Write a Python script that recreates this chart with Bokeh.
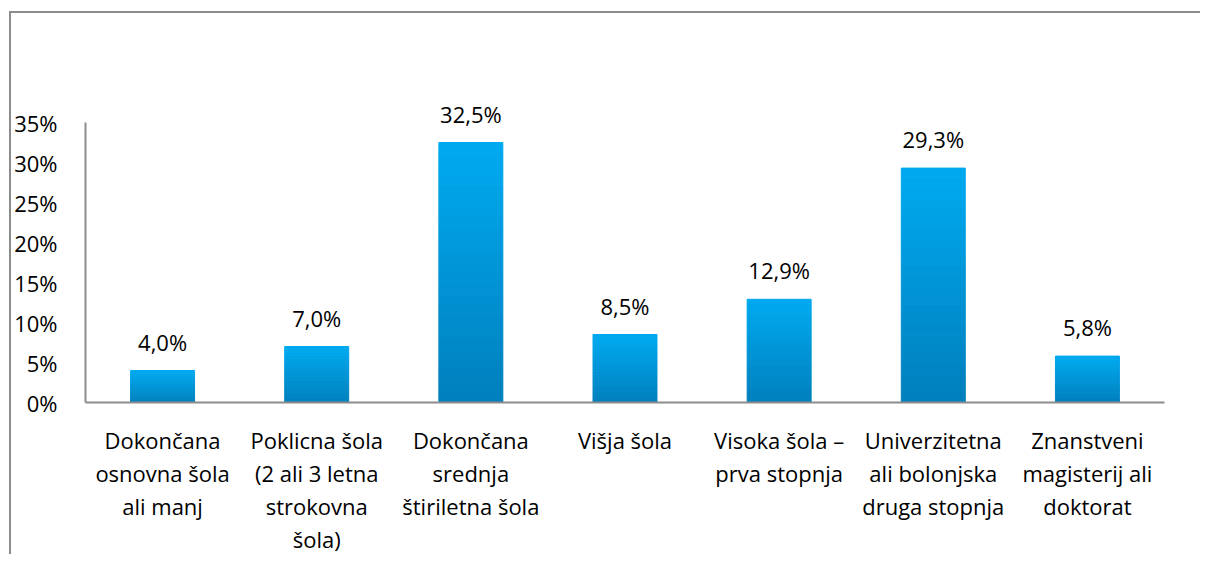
from bokeh.plotting import figure
from bokeh.models import FactorRange, FixedTicker, PrintfTickFormatter, ColumnDataSource, LabelSet
from bokeh.core.properties import value
from bokeh.embed import file_html
from bokeh.resources import INLINE

category_labels = [
    "Dokončana\nosnovna šola\nali manj",
    "Poklicna šola\n(2 ali 3 letna\nstrokovna\nšola)",
    "Dokončana\nsrednja\nštiriletna šola",
    "Višja šola",
    "Visoka šola –\nprva stopnja",
    "Univerzitetna\nali bolonjska\ndruga stopnja",
    "Znanstveni\nmagisterij ali\ndoktorat",
]
values = [4.0, 7.0, 32.5, 8.5, 12.9, 29.3, 5.8]
y_ticks = [0, 5, 10, 15, 20, 25, 30, 35]

FONT = "Open Sans"
FS = "22px"

p = figure(
    x_range=FactorRange(*category_labels, range_padding=0),
    y_range=(0, 40),
    width=1191, height=543,
    min_border_left=60, min_border_top=69, min_border_right=38, min_border_bottom=152,
    output_backend="svg", toolbar_location=None,
)
p.margin = (11, 0, 0, 9)
p.styles = {"border-top": "2px solid #8c8c8c", "border-left": "2px solid #8c8c8c"}
p.outline_line_color = None
p.xgrid.grid_line_color = None
p.ygrid.grid_line_color = None

# gradient bars: slices from dark (bottom) to light (top)
N = 24
dark = (0, 127, 188)
light = (0, 170, 240)
xs, bottoms, tops, colors = [], [], [], []
for c, v in zip(category_labels, values):
    for k in range(N):
        t = (k + 0.5) / N
        col = tuple(int(round(d + (l - d) * t)) for d, l in zip(dark, light))
        xs.append(c)
        bottoms.append(v * k / N)
        tops.append(v * (k + 1) / N)
        colors.append("#%02x%02x%02x" % col)
p.vbar(x=xs, bottom=bottoms, top=tops, width=0.415, fill_color=colors, line_color=colors, line_width=1)

src = ColumnDataSource(dict(x=category_labels, y=values,
                            txt=[f"{v:.1f}%".replace(".", ",") for v in values]))
labels = LabelSet(x="x", y="y", text="txt", source=src, text_align="center",
                  text_baseline="alphabetic", y_offset=20,
                  text_font=value(FONT), text_font_size=value(FS), text_color="#000000")
p.add_layout(labels)

p.yaxis.bounds = (0, 35)
p.yaxis.ticker = FixedTicker(ticks=y_ticks)
p.yaxis.formatter = PrintfTickFormatter(format="%d%%")
p.yaxis.major_label_text_font = FONT
p.yaxis.major_label_text_font_size = FS
p.yaxis.major_label_text_color = "#000000"
p.yaxis.major_label_standoff = 22
p.yaxis.major_tick_line_color = None
p.yaxis.minor_tick_line_color = None
p.yaxis.axis_line_color = "#8c8c8c"
p.yaxis.axis_line_width = 2

p.xaxis.major_label_text_font = FONT
p.xaxis.major_label_text_font_size = FS
p.xaxis.major_label_text_color = "#000000"
p.xaxis.major_label_text_line_height = 1.1
p.xaxis.major_label_standoff = 16
p.xaxis.major_label_orientation = "horizontal"
p.xaxis.major_tick_line_color = None
p.xaxis.axis_line_color = "#8c8c8c"
p.xaxis.axis_line_width = 2

open("out.html", "w").write(file_html(p, INLINE))
